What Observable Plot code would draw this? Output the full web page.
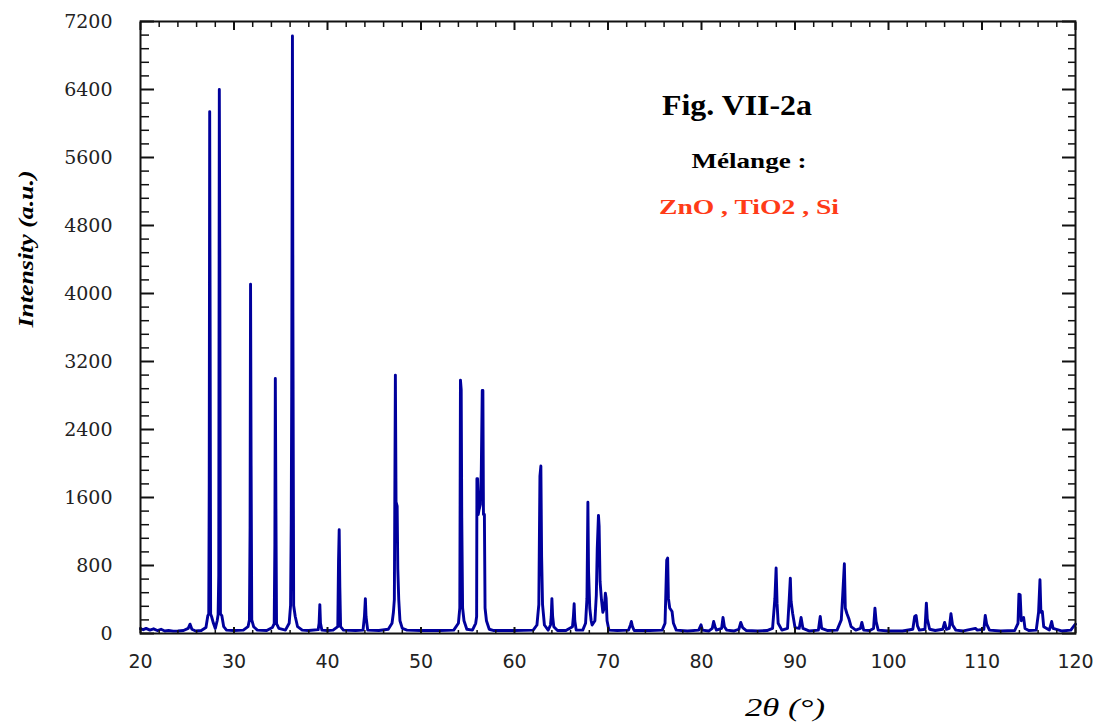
<!DOCTYPE html>
<html>
<head>
<meta charset="utf-8">
<script src="https://cdn.jsdelivr.net/npm/d3@7"></script>
<script src="https://cdn.jsdelivr.net/npm/@observablehq/plot@0.6"></script>
<style>
  html, body { margin: 0; padding: 0; background: #fff; }
  #chart { width: 1096px; height: 724px; }
</style>
</head>
<body>
<div id="chart"></div>
<script>
// 2θ (degrees) positions
const twoTheta = [
  20.0, 20.3, 20.6, 21.0, 21.4, 21.8, 22.2, 22.6, 23.0, 23.5, 24.0, 24.6, 25.1, 25.3, 25.5, 25.9, 26.5,
  27.0, 27.2, 27.30, 27.35, 27.40, 27.45, 27.50, 27.6, 27.8, 28.0, 28.2, 28.3, 28.37, 28.43, 28.48, 28.55, 28.7, 28.9, 29.2,
  30.0, 31.0, 31.5, 31.65, 31.72, 31.77, 31.83, 31.9, 32.1, 32.5, 33.5,
  34.1, 34.3, 34.37, 34.42, 34.48, 34.55, 34.8, 35.5,
  35.9, 36.05, 36.12, 36.17, 36.25, 36.30, 36.38, 36.55, 36.8, 37.3, 38.0,
  39.0, 39.1, 39.18, 39.25, 39.4, 40.0, 40.6,
  41.1, 41.18, 41.25, 41.32, 41.4, 41.7, 43.0,
  43.8, 43.95, 44.05, 44.12, 44.3, 45.5, 46.5,
  46.9, 47.05, 47.15, 47.26, 47.33, 47.45, 47.52, 47.62, 47.75, 48.0, 48.5, 50.0, 52.0, 53.5,
  54.0, 54.15, 54.22, 54.30, 54.36, 54.45, 54.6, 54.9, 55.5,
  55.85, 55.95, 55.98, 56.05, 56.12, 56.20, 56.35, 56.45, 56.55, 56.62, 56.68, 56.78, 56.85, 57.0, 57.3, 57.8,
  60.0, 62.0, 62.4, 62.6, 62.72, 62.82, 62.90, 63.0, 63.2, 63.6,
  63.85, 63.93, 64.0, 64.08, 64.2, 64.6, 65.5,
  66.2, 66.3, 66.38, 66.45, 66.6, 67.3,
  67.6, 67.75, 67.85, 67.92, 68.05, 68.2, 68.3, 68.6,
  68.75, 68.85, 68.98, 69.05, 69.15, 69.3, 69.45, 69.6, 69.72, 69.8, 69.9, 70.1, 71.0,
  72.2, 72.4, 72.5, 72.62, 72.8, 74.5,
  75.8, 76.1, 76.28, 76.38, 76.46, 76.6, 76.85, 77.0, 77.3, 78.5,
  79.7, 79.95, 80.1, 80.8, 81.15, 81.3, 81.45, 81.6, 82.15, 82.3, 82.45, 82.7, 83.5, 84.0, 84.2, 84.4, 84.8, 86.0,
  87.0, 87.6, 87.85, 87.98, 88.08, 88.2, 88.6,
  89.2, 89.38, 89.5, 89.58, 89.75, 90.0, 90.45, 90.65, 90.85, 91.5, 92.5, 92.7, 92.85, 93.5,
  94.5, 94.95, 95.1, 95.28, 95.38, 95.55, 95.75, 96.0, 96.5, 97.0, 97.15, 97.35, 98.0,
  98.4, 98.55, 98.68, 98.9, 100.0, 101.5,
  102.6, 102.8, 102.95, 103.1, 103.3, 103.9, 104.05, 104.15, 104.4, 105.0,
  105.8, 106.0, 106.2, 106.5, 106.68, 106.85, 107.2, 108.0, 109.3, 109.5,
  110.2, 110.35, 110.5, 110.8, 112.0, 113.5,
  113.85, 113.95, 114.08, 114.2, 114.45, 114.6, 115.0,
  115.8, 116.05, 116.2, 116.3, 116.45, 116.6, 117.2, 117.45, 117.6, 118.5, 119.5, 119.9, 120.0
];

// Intensity (a.u.), one per 2θ value above
const intensity = [
  55, 45, 60, 40, 55, 35, 50, 30, 35, 28, 30, 35, 60, 110, 50, 30, 35,
  70, 210, 230, 1770, 6140, 3480, 230, 200, 120, 60, 150, 220, 683, 6400, 4530, 230, 210, 80, 40,
  35, 40, 80, 160, 1250, 4110, 1980, 160, 80, 40, 35,
  70, 115, 1050, 3000, 1550, 115, 60, 40,
  120, 330, 1310, 2790, 7030, 3775, 330, 200, 80, 40, 35,
  45, 120, 340, 120, 40, 35, 40,
  80, 860, 1220, 540, 80, 40, 35,
  40, 200, 410, 200, 40, 35, 50,
  120, 250, 400, 3040, 1550, 1500, 760, 400, 150, 60, 40, 35, 35, 40,
  120, 300, 2980, 2870, 1360, 300, 150, 50, 40,
  120, 200, 1820, 1820, 1400, 1450, 1520, 1930, 2860, 2860, 1400, 1400, 300, 150, 50, 35,
  35, 40, 100, 340, 1850, 1970, 910, 340, 100, 40,
  100, 200, 410, 200, 80, 35, 35,
  80, 200, 350, 150, 40, 40,
  120, 416, 1545, 730, 300, 150, 100, 150,
  450, 1000, 1390, 1268, 612, 400, 250, 300, 475, 416, 150, 40, 35,
  40, 100, 141, 80, 35, 35,
  40, 120, 863, 887, 416, 300, 259, 120, 40, 30,
  40, 102, 40, 30, 60, 141, 80, 40, 60, 188, 80, 40, 30, 50, 130, 70, 35, 30,
  35, 60, 412, 770, 357, 120, 40,
  60, 400, 652, 380, 235, 70, 60, 188, 60, 30, 40, 200, 60, 35,
  40, 160, 447, 821, 298, 235, 177, 80, 40, 60, 130, 40, 35,
  60, 298, 140, 40, 30, 30,
  50, 200, 212, 90, 40, 50, 357, 170, 50, 35,
  50, 130, 50, 60, 232, 100, 40, 30, 60, 40,
  50, 212, 110, 40, 30, 35,
  120, 463, 455, 150, 188, 60, 35,
  40, 250, 632, 250, 259, 80, 40, 141, 60, 30, 40, 100, 110
];

// Axis ticks
const xMajorTicks = [20, 30, 40, 50, 60, 70, 80, 90, 100, 110, 120];
const xMinorTicks = [22, 24, 26, 28, 32, 34, 36, 38, 42, 44, 46, 48, 52, 54, 56, 58, 62, 64, 66, 68,
                     72, 74, 76, 78, 82, 84, 86, 88, 92, 94, 96, 98, 102, 104, 106, 108, 112, 114, 116, 118];
const yMajorTicks = [0, 800, 1600, 2400, 3200, 4000, 4800, 5600, 6400, 7200];
const yMinorTicks = d3.range(0, 7201, 160).filter(v => v % 800 !== 0);

// Texts
const figTitle = "Fig. VII-2a";
const subTitle = "Mélange :";
const compounds = "ZnO , TiO2 , Si";
const xLabel = "2θ (°)";
const yLabel = "Intensity (a.u.)";

const pattern = twoTheta.map((t, i) => ({t, I: intensity[i]}));

const serif = "'Liberation Serif', 'DejaVu Serif', serif";
const blank = () => "";

const plot = Plot.plot({
  width: 1096,
  height: 724,
  marginLeft: 140,
  marginRight: 21,
  marginTop: 21,
  marginBottom: 91,
  style: {background: "#fff", color: "#111", fontFamily: "'DejaVu Sans', sans-serif", overflow: "visible"},
  x: {domain: [20, 120], label: null},
  y: {domain: [0, 7200], label: null},
  marks: [
    Plot.line(pattern, {x: "t", y: "I", stroke: "#00009c", strokeWidth: 2.9, strokeLinejoin: "round"}),
    // bottom axis
    Plot.axisX({anchor: "bottom", ticks: xMajorTicks, tickSize: -6, tickFormat: blank, label: null, strokeWidth: 2}),
    Plot.axisX({anchor: "bottom", ticks: xMinorTicks, tickSize: -3, tickFormat: blank, label: null, strokeWidth: 1.5}),
    Plot.axisX({anchor: "bottom", ticks: xMajorTicks, tickSize: 0, tickPadding: 21, tickFormat: d => String(d),
                fontSize: 19, fontFamily: "'DejaVu Sans', sans-serif", fill: "#222", label: null}),
    // top axis
    Plot.axisX({anchor: "top", ticks: xMajorTicks, tickSize: -8, tickFormat: blank, label: null, strokeWidth: 2}),
    Plot.axisX({anchor: "top", ticks: xMinorTicks, tickSize: -5, tickFormat: blank, label: null, strokeWidth: 1.5}),
    // left axis
    Plot.axisY({anchor: "left", ticks: yMajorTicks, tickSize: -14, tickFormat: blank, label: null, strokeWidth: 2}),
    Plot.axisY({anchor: "left", ticks: yMinorTicks, tickSize: -9, tickFormat: blank, label: null, strokeWidth: 1.5}),
    Plot.axisY({anchor: "left", ticks: yMajorTicks, tickSize: 0, tickPadding: 28, tickFormat: d => String(d),
                fontSize: 19, fontFamily: "'DejaVu Serif', serif", fill: "#222", label: null}),
    // right axis
    Plot.axisY({anchor: "right", ticks: yMajorTicks, tickSize: -14, tickFormat: blank, label: null, strokeWidth: 2}),
    Plot.axisY({anchor: "right", ticks: yMinorTicks, tickSize: -8, tickFormat: blank, label: null, strokeWidth: 1.5}),
    Plot.frame({stroke: "#111", strokeWidth: 2})
  ]
});

const svg = d3.select(plot);

function addText(str, x, y, opts) {
  const t = svg.append("text")
    .attr("x", x).attr("y", y)
    .attr("text-anchor", opts.anchor || "middle")
    .attr("font-family", opts.family || serif)
    .attr("font-size", opts.size)
    .attr("font-weight", opts.weight || "normal")
    .attr("font-style", opts.style || "normal")
    .attr("fill", opts.fill || "#000")
    .style("white-space", "pre")
    .text(str);
  if (opts.length) t.attr("textLength", opts.length).attr("lengthAdjust", "spacingAndGlyphs");
  if (opts.rotate) t.attr("transform", `rotate(${opts.rotate},${x},${y})`);
  return t;
}

addText(figTitle, 737, 115, {size: 30, weight: "bold", length: 150});
addText(subTitle, 749, 168, {size: 22, weight: "bold", length: 115});
addText(compounds, 749, 214, {size: 22, weight: "bold", fill: "#ff3b17", length: 180});
addText(yLabel, 33, 249, {size: 22, weight: "bold", style: "italic", rotate: -90, length: 157});
addText(xLabel, 785, 716, {size: 26, style: "italic", length: 80});

document.getElementById("chart").appendChild(plot);
</script>
</body>
</html>
